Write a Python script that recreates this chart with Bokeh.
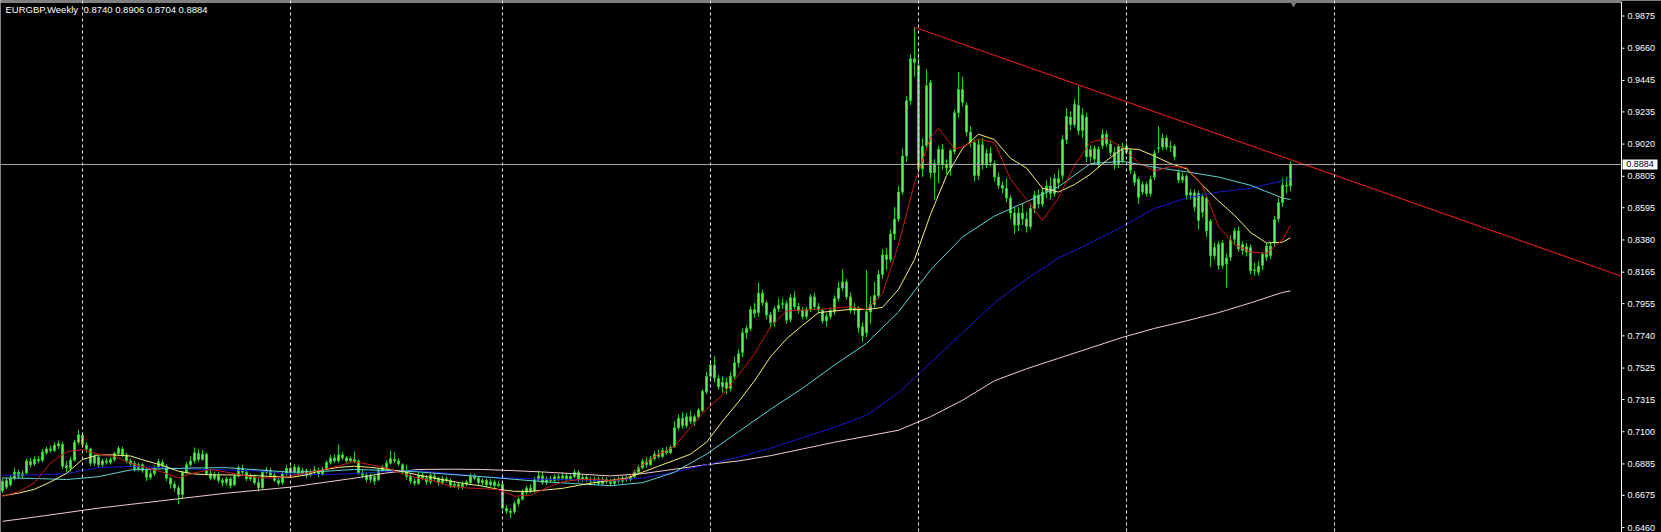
from bokeh.plotting import figure
from bokeh.models import Span, Label, ColumnDataSource, Range1d
from bokeh.core.properties import value
from bokeh.embed import file_html
from bokeh.resources import INLINE

symbol = "EURGBP"
period = "Weekly"

# weekly OHLC, oldest first
open_ = [
    0.6705, 0.6730, 0.6745, 0.6790, 0.6830, 0.6805, 0.6825, 0.6900, 0.6885, 0.6915,
    0.6910, 0.6960, 0.6985, 0.6975, 0.7005, 0.7015, 0.6875, 0.6855, 0.6910, 0.7030,
    0.7075, 0.7010, 0.6985, 0.6890, 0.6930, 0.6880, 0.6905, 0.6895, 0.6915, 0.6955,
    0.6985, 0.6945, 0.6905, 0.6890, 0.6850, 0.6880, 0.6845, 0.6795, 0.6820, 0.6860,
    0.6895, 0.6870, 0.6790, 0.6750, 0.6725, 0.6680, 0.6830, 0.6880, 0.6905, 0.6955,
    0.6915, 0.6950, 0.6820, 0.6790, 0.6810, 0.6775, 0.6760, 0.6785, 0.6745, 0.6805,
    0.6855, 0.6830, 0.6785, 0.6800, 0.6760, 0.6725, 0.6830, 0.6840, 0.6810, 0.6775,
    0.6760, 0.6820, 0.6855, 0.6830, 0.6860, 0.6820, 0.6840, 0.6810, 0.6830, 0.6845,
    0.6815, 0.6850, 0.6895, 0.6925, 0.6905, 0.6945, 0.6925, 0.6905, 0.6915, 0.6905,
    0.6825, 0.6810, 0.6780, 0.6800, 0.6780, 0.6840, 0.6860, 0.6890, 0.6915, 0.6905,
    0.6880, 0.6830, 0.6805, 0.6770, 0.6755, 0.6810, 0.6790, 0.6765, 0.6805, 0.6790,
    0.6760, 0.6785, 0.6775, 0.6740, 0.6750, 0.6735, 0.6750, 0.6760, 0.6805, 0.6790,
    0.6760, 0.6775, 0.6745, 0.6765, 0.6740, 0.6750, 0.6590, 0.6570, 0.6565, 0.6620,
    0.6650, 0.6695, 0.6725, 0.6705, 0.6780, 0.6805, 0.6760, 0.6785, 0.6775, 0.6800,
    0.6790, 0.6805, 0.6785, 0.6800, 0.6830, 0.6780, 0.6795, 0.6780, 0.6770, 0.6785,
    0.6755, 0.6780, 0.6770, 0.6755, 0.6780, 0.6770, 0.6790, 0.6780, 0.6800, 0.6830,
    0.6860, 0.6900, 0.6880, 0.6920, 0.6950, 0.6935, 0.6975, 0.6960, 0.7000, 0.7126,
    0.7190, 0.7140, 0.7200, 0.7165, 0.7200, 0.7240, 0.7365, 0.7470, 0.7545, 0.7455,
    0.7400, 0.7430, 0.7390, 0.7470, 0.7560, 0.7630, 0.7760, 0.7790, 0.7915, 0.7895,
    0.8025, 0.7960, 0.7880, 0.7830, 0.7920, 0.7950, 0.7955, 0.7850, 0.7995, 0.7935,
    0.7910, 0.7870, 0.7915, 0.8000, 0.7935, 0.7910, 0.7840, 0.7870, 0.7900, 0.7990,
    0.8060, 0.8100, 0.8000, 0.7910, 0.7925, 0.7800, 0.7760, 0.7900, 0.7950, 0.8010,
    0.8150, 0.8280, 0.8250, 0.8420, 0.8520, 0.8700, 0.8940, 0.9310, 0.9590, 0.9545,
    0.8855, 0.9010, 0.9430, 0.8830, 0.8890, 0.8985, 0.8880, 0.8860, 0.8970, 0.9230,
    0.9385, 0.9280, 0.9100, 0.9030, 0.8810, 0.9015, 0.8880, 0.8960, 0.8890, 0.8800,
    0.8745, 0.8725, 0.8660, 0.8560, 0.8480, 0.8560, 0.8520, 0.8470, 0.8590, 0.8680,
    0.8620, 0.8700, 0.8740, 0.8690, 0.8790, 0.8810, 0.9050, 0.9200, 0.9150, 0.9280,
    0.9110, 0.9200, 0.8935, 0.8990, 0.8880, 0.9010, 0.9085, 0.9020, 0.8965, 0.8885,
    0.9000, 0.8965, 0.8975, 0.8820, 0.8785, 0.8700, 0.8750, 0.8690, 0.8800, 0.8990,
    0.9000, 0.9060, 0.9005, 0.9005, 0.8830, 0.8780, 0.8805, 0.8695, 0.8695, 0.8690,
    0.8565, 0.8660, 0.8505, 0.8275, 0.8350, 0.8210, 0.8260, 0.8265, 0.8385, 0.8440,
    0.8350, 0.8335, 0.8330, 0.8180, 0.8165, 0.8210, 0.8265, 0.8340, 0.8365, 0.8520,
    0.8630, 0.8745, 0.8740,
]
high = [
    0.6790, 0.6795, 0.6810, 0.6860, 0.6850, 0.6840, 0.6920, 0.6925, 0.6935, 0.6940,
    0.6985, 0.7000, 0.7010, 0.7030, 0.7040, 0.7035, 0.6905, 0.6930, 0.7045, 0.7115,
    0.7095, 0.7030, 0.6995, 0.6950, 0.6945, 0.6920, 0.6925, 0.6930, 0.6965, 0.7005,
    0.7000, 0.6960, 0.6920, 0.6905, 0.6895, 0.6890, 0.6860, 0.6840, 0.6875, 0.6920,
    0.6915, 0.6885, 0.6800, 0.6770, 0.6740, 0.6840, 0.6900, 0.6935, 0.6995, 0.6985,
    0.6980, 0.6960, 0.6845, 0.6835, 0.6830, 0.6790, 0.6800, 0.6800, 0.6820, 0.6875,
    0.6880, 0.6840, 0.6820, 0.6815, 0.6790, 0.6845, 0.6865, 0.6860, 0.6830, 0.6795,
    0.6835, 0.6880, 0.6870, 0.6885, 0.6875, 0.6860, 0.6855, 0.6850, 0.6870, 0.6860,
    0.6865, 0.6910, 0.6945, 0.6950, 0.7015, 0.6965, 0.6940, 0.6935, 0.6970, 0.6915,
    0.6845, 0.6830, 0.6820, 0.6815, 0.6855, 0.6880, 0.6910, 0.6975, 0.6965, 0.6925,
    0.6890, 0.6880, 0.6825, 0.6790, 0.6830, 0.6830, 0.6810, 0.6825, 0.6825, 0.6800,
    0.6805, 0.6800, 0.6790, 0.6770, 0.6765, 0.6770, 0.6780, 0.6825, 0.6820, 0.6805,
    0.6790, 0.6785, 0.6785, 0.6780, 0.6770, 0.6765, 0.6610, 0.6590, 0.6640, 0.6665,
    0.6715, 0.6740, 0.6750, 0.6800, 0.6840, 0.6830, 0.6800, 0.6805, 0.6815, 0.6820,
    0.6830, 0.6825, 0.6815, 0.6850, 0.6845, 0.6815, 0.6810, 0.6800, 0.6800, 0.6800,
    0.6800, 0.6795, 0.6785, 0.6795, 0.6800, 0.6805, 0.6810, 0.6815, 0.6845, 0.6880,
    0.6920, 0.6930, 0.6940, 0.6970, 0.6980, 0.6995, 0.7000, 0.7010, 0.7170, 0.7215,
    0.7230, 0.7225, 0.7240, 0.7215, 0.7260, 0.7385, 0.7500, 0.7580, 0.7605, 0.7480,
    0.7470, 0.7460, 0.7500, 0.7600, 0.7650, 0.7790, 0.7810, 0.7940, 0.7960, 0.8095,
    0.8050, 0.7975, 0.7900, 0.7940, 0.7990, 0.7990, 0.7975, 0.8020, 0.8040, 0.7960,
    0.7930, 0.7935, 0.8020, 0.8030, 0.7960, 0.7920, 0.7890, 0.7930, 0.8010, 0.8100,
    0.8185, 0.8120, 0.8030, 0.7960, 0.7940, 0.7830, 0.8180, 0.8000, 0.8100, 0.8180,
    0.8320, 0.8330, 0.8450, 0.8600, 0.8740, 0.8990, 0.9340, 0.9620, 0.9800, 0.9630,
    0.9060, 0.9520, 0.9450, 0.8920, 0.9010, 0.9020, 0.8920, 0.8990, 0.9250, 0.9500,
    0.9470, 0.9300, 0.9140, 0.9050, 0.9050, 0.9060, 0.8990, 0.9000, 0.8910, 0.8830,
    0.8770, 0.8790, 0.8680, 0.8600, 0.8600, 0.8620, 0.8570, 0.8620, 0.8710, 0.8720,
    0.8730, 0.8780, 0.8800, 0.8820, 0.8850, 0.9080, 0.9260, 0.9240, 0.9320, 0.9410,
    0.9260, 0.9230, 0.9010, 0.9010, 0.9005, 0.9120, 0.9110, 0.9040, 0.9000, 0.9020,
    0.9030, 0.9030, 0.8990, 0.8840, 0.8800, 0.8770, 0.8770, 0.8810, 0.8980, 0.9140,
    0.9090, 0.9080, 0.9040, 0.9020, 0.8850, 0.8830, 0.8820, 0.8720, 0.8720, 0.8710,
    0.8690, 0.8680, 0.8520, 0.8360, 0.8370, 0.8380, 0.8290, 0.8410, 0.8460, 0.8470,
    0.8370, 0.8360, 0.8350, 0.8230, 0.8240, 0.8300, 0.8360, 0.8370, 0.8540, 0.8660,
    0.8790, 0.8800, 0.8906,
]
low = [
    0.6690, 0.6715, 0.6735, 0.6775, 0.6785, 0.6790, 0.6815, 0.6860, 0.6870, 0.6890,
    0.6895, 0.6945, 0.6960, 0.6965, 0.6985, 0.6850, 0.6830, 0.6835, 0.6900, 0.7015,
    0.6995, 0.6960, 0.6870, 0.6870, 0.6860, 0.6865, 0.6880, 0.6880, 0.6900, 0.6940,
    0.6930, 0.6890, 0.6870, 0.6835, 0.6840, 0.6825, 0.6770, 0.6780, 0.6805, 0.6850,
    0.6855, 0.6770, 0.6720, 0.6700, 0.6615, 0.6650, 0.6815, 0.6865, 0.6890, 0.6900,
    0.6905, 0.6810, 0.6775, 0.6775, 0.6760, 0.6735, 0.6740, 0.6720, 0.6735, 0.6795,
    0.6815, 0.6770, 0.6770, 0.6745, 0.6700, 0.6720, 0.6815, 0.6795, 0.6765, 0.6740,
    0.6745, 0.6805, 0.6815, 0.6815, 0.6805, 0.6805, 0.6790, 0.6800, 0.6815, 0.6795,
    0.6805, 0.6840, 0.6880, 0.6890, 0.6895, 0.6910, 0.6890, 0.6895, 0.6890, 0.6810,
    0.6790, 0.6760, 0.6760, 0.6745, 0.6770, 0.6830, 0.6845, 0.6880, 0.6890, 0.6870,
    0.6815, 0.6780, 0.6750, 0.6740, 0.6745, 0.6775, 0.6745, 0.6750, 0.6770, 0.6740,
    0.6745, 0.6760, 0.6725, 0.6725, 0.6715, 0.6715, 0.6735, 0.6745, 0.6775, 0.6745,
    0.6740, 0.6730, 0.6735, 0.6720, 0.6730, 0.6580, 0.6550, 0.6524, 0.6550, 0.6600,
    0.6640, 0.6680, 0.6690, 0.6695, 0.6770, 0.6745, 0.6745, 0.6760, 0.6760, 0.6770,
    0.6775, 0.6770, 0.6770, 0.6790, 0.6760, 0.6765, 0.6765, 0.6755, 0.6745, 0.6740,
    0.6745, 0.6750, 0.6735, 0.6740, 0.6755, 0.6755, 0.6765, 0.6770, 0.6790, 0.6820,
    0.6850, 0.6860, 0.6870, 0.6905, 0.6920, 0.6925, 0.6945, 0.6950, 0.6990, 0.7110,
    0.7120, 0.7125, 0.7150, 0.7140, 0.7180, 0.7230, 0.7350, 0.7440, 0.7430, 0.7380,
    0.7360, 0.7350, 0.7370, 0.7450, 0.7530, 0.7600, 0.7720, 0.7770, 0.7860, 0.7870,
    0.7940, 0.7850, 0.7790, 0.7800, 0.7900, 0.7920, 0.7820, 0.7830, 0.7915, 0.7890,
    0.7850, 0.7850, 0.7900, 0.7915, 0.7890, 0.7820, 0.7800, 0.7850, 0.7880, 0.7970,
    0.8040, 0.7980, 0.7890, 0.7880, 0.7760, 0.7700, 0.7730, 0.7820, 0.7930, 0.7990,
    0.8120, 0.8180, 0.8230, 0.8380, 0.8500, 0.8680, 0.8900, 0.9280, 0.9470, 0.8820,
    0.8800, 0.8980, 0.8790, 0.8650, 0.8760, 0.8850, 0.8820, 0.8810, 0.8950, 0.9200,
    0.9270, 0.9070, 0.9000, 0.8770, 0.8780, 0.8850, 0.8860, 0.8870, 0.8770, 0.8720,
    0.8690, 0.8630, 0.8520, 0.8420, 0.8440, 0.8480, 0.8430, 0.8450, 0.8560, 0.8590,
    0.8600, 0.8660, 0.8650, 0.8670, 0.8720, 0.8780, 0.9020, 0.9110, 0.9130, 0.9080,
    0.9060, 0.8900, 0.8900, 0.8880, 0.8860, 0.8990, 0.9000, 0.8940, 0.8850, 0.8860,
    0.8890, 0.8950, 0.8820, 0.8740, 0.8620, 0.8680, 0.8670, 0.8670, 0.8780, 0.8960,
    0.8980, 0.8980, 0.8970, 0.8910, 0.8760, 0.8760, 0.8650, 0.8650, 0.8570, 0.8450,
    0.8530, 0.8400, 0.8200, 0.8250, 0.8180, 0.8190, 0.8062, 0.8240, 0.8350, 0.8300,
    0.8280, 0.8270, 0.8150, 0.8140, 0.8140, 0.8180, 0.8240, 0.8250, 0.8340, 0.8500,
    0.8600, 0.8690, 0.8704,
]
close = [
    0.6770, 0.6775, 0.6790, 0.6830, 0.6800, 0.6820, 0.6905, 0.6880, 0.6915, 0.6905,
    0.6965, 0.6985, 0.6975, 0.7010, 0.7020, 0.6870, 0.6860, 0.6910, 0.7030, 0.7080,
    0.7015, 0.6985, 0.6890, 0.6935, 0.6880, 0.6905, 0.6895, 0.6915, 0.6955, 0.6990,
    0.6945, 0.6905, 0.6885, 0.6850, 0.6880, 0.6840, 0.6795, 0.6820, 0.6860, 0.6900,
    0.6870, 0.6790, 0.6750, 0.6725, 0.6680, 0.6830, 0.6880, 0.6905, 0.6960, 0.6915,
    0.6950, 0.6820, 0.6790, 0.6815, 0.6775, 0.6760, 0.6785, 0.6740, 0.6805, 0.6860,
    0.6830, 0.6785, 0.6800, 0.6760, 0.6725, 0.6830, 0.6845, 0.6810, 0.6775, 0.6755,
    0.6820, 0.6855, 0.6830, 0.6865, 0.6820, 0.6840, 0.6810, 0.6830, 0.6845, 0.6815,
    0.6850, 0.6895, 0.6925, 0.6905, 0.6945, 0.6925, 0.6905, 0.6920, 0.6900, 0.6825,
    0.6810, 0.6780, 0.6805, 0.6770, 0.6840, 0.6865, 0.6890, 0.6920, 0.6905, 0.6885,
    0.6830, 0.6800, 0.6770, 0.6755, 0.6810, 0.6790, 0.6765, 0.6810, 0.6790, 0.6760,
    0.6785, 0.6775, 0.6740, 0.6750, 0.6735, 0.6750, 0.6765, 0.6805, 0.6790, 0.6760,
    0.6775, 0.6745, 0.6765, 0.6740, 0.6750, 0.6590, 0.6570, 0.6560, 0.6620, 0.6650,
    0.6700, 0.6725, 0.6700, 0.6780, 0.6805, 0.6760, 0.6785, 0.6775, 0.6800, 0.6790,
    0.6805, 0.6785, 0.6800, 0.6830, 0.6780, 0.6795, 0.6780, 0.6770, 0.6785, 0.6755,
    0.6780, 0.6770, 0.6755, 0.6780, 0.6770, 0.6790, 0.6780, 0.6800, 0.6830, 0.6860,
    0.6900, 0.6880, 0.6920, 0.6950, 0.6935, 0.6975, 0.6960, 0.6995, 0.7126, 0.7190,
    0.7140, 0.7200, 0.7170, 0.7200, 0.7245, 0.7370, 0.7470, 0.7545, 0.7460, 0.7400,
    0.7430, 0.7390, 0.7470, 0.7560, 0.7620, 0.7760, 0.7790, 0.7915, 0.7890, 0.8025,
    0.7960, 0.7880, 0.7830, 0.7920, 0.7945, 0.7955, 0.7845, 0.7995, 0.7935, 0.7910,
    0.7870, 0.7915, 0.8000, 0.7935, 0.7915, 0.7840, 0.7870, 0.7910, 0.7990, 0.8060,
    0.8100, 0.8000, 0.7910, 0.7925, 0.7795, 0.7740, 0.7900, 0.7950, 0.8010, 0.8150,
    0.8280, 0.8250, 0.8420, 0.8520, 0.8700, 0.8940, 0.9310, 0.9590, 0.9565, 0.8855,
    0.9005, 0.9410, 0.8830, 0.8890, 0.8985, 0.8880, 0.8860, 0.8975, 0.9230, 0.9385,
    0.9300, 0.9100, 0.9035, 0.8810, 0.9015, 0.8880, 0.8960, 0.8900, 0.8800, 0.8745,
    0.8725, 0.8660, 0.8560, 0.8480, 0.8560, 0.8520, 0.8470, 0.8590, 0.8680, 0.8620,
    0.8700, 0.8740, 0.8690, 0.8790, 0.8760, 0.9050, 0.9205, 0.9150, 0.9285, 0.9110,
    0.9215, 0.8935, 0.8985, 0.8920, 0.8985, 0.9085, 0.9020, 0.8965, 0.8880, 0.9005,
    0.8910, 0.9005, 0.8845, 0.8765, 0.8665, 0.8750, 0.8690, 0.8785, 0.8960, 0.8995,
    0.9060, 0.9000, 0.9000, 0.8935, 0.8780, 0.8805, 0.8680, 0.8680, 0.8600, 0.8510,
    0.8670, 0.8440, 0.8275, 0.8330, 0.8210, 0.8360, 0.8220, 0.8380, 0.8440, 0.8320,
    0.8310, 0.8300, 0.8175, 0.8175, 0.8205, 0.8285, 0.8340, 0.8275, 0.8515, 0.8630,
    0.8745, 0.8740, 0.8884,
]

# moving averages, sampled along the bar index
ma_red_bars = list(range(0, 233, 4)) + [234, 238] + list(range(240, 321, 4)) + [322]
ma_red = [
    0.6669, 0.6700, 0.6759, 0.6892, 0.6965, 0.6981, 0.6950, 0.6935, 0.6890, 0.6860,
    0.6830, 0.6792, 0.6825, 0.6848, 0.6830, 0.6810, 0.6792, 0.6792, 0.6805, 0.6825,
    0.6845, 0.6872, 0.6900, 0.6880, 0.6858, 0.6820, 0.6790, 0.6770, 0.6736, 0.6725,
    0.6720, 0.6714, 0.6670, 0.6675, 0.6725, 0.6765, 0.6780, 0.6782, 0.6775, 0.6785,
    0.6880, 0.6950, 0.7000, 0.7130, 0.7250, 0.7345, 0.7480, 0.7620, 0.7800, 0.7906,
    0.7912, 0.7917, 0.7925, 0.7935, 0.7915, 0.8020, 0.8350, 0.8760, 0.9064, 0.9125,
    0.8990, 0.9000, 0.9053, 0.9030, 0.8786, 0.8650, 0.8510, 0.8660, 0.8880, 0.9031,
    0.9060, 0.8995, 0.8895, 0.8840, 0.8870, 0.8865, 0.8740, 0.8470, 0.8350, 0.8300,
    0.8290, 0.8380, 0.8480,
]
ma_yellow_bars = list(range(0, 321, 4)) + [322]
ma_yellow = [
    0.6672, 0.6690, 0.6716, 0.6765, 0.6822, 0.6915, 0.6946, 0.6945, 0.6938, 0.6905,
    0.6875, 0.6836, 0.6818, 0.6812, 0.6812, 0.6810, 0.6806, 0.6800, 0.6795, 0.6812,
    0.6845, 0.6862, 0.6870, 0.6862, 0.6850, 0.6835, 0.6810, 0.6790, 0.6770, 0.6752,
    0.6737, 0.6715, 0.6702, 0.6702, 0.6712, 0.6722, 0.6742, 0.6760, 0.6775, 0.6790,
    0.6830, 0.6870, 0.6910, 0.6950, 0.7030, 0.7170, 0.7300, 0.7440, 0.7600, 0.7720,
    0.7810, 0.7895, 0.7906, 0.7917, 0.7915, 0.7930, 0.8050, 0.8250, 0.8550, 0.8810,
    0.8990, 0.9086, 0.9050, 0.8925, 0.8860, 0.8725, 0.8700, 0.8750, 0.8820, 0.8910,
    0.8990, 0.8985, 0.8940, 0.8890, 0.8855, 0.8745, 0.8640, 0.8545, 0.8430, 0.8360,
    0.8365, 0.8395,
]
ma_slow_bars = list(range(0, 321, 8)) + [322]
ma_cyan = [
    0.6792, 0.6788, 0.6781, 0.6800, 0.6845, 0.6852, 0.6858, 0.6860, 0.6845, 0.6830,
    0.6835, 0.6848, 0.6842, 0.6832, 0.6815, 0.6800, 0.6782, 0.6765, 0.6752, 0.6740,
    0.6760, 0.6830, 0.6950, 0.7100, 0.7250, 0.7390, 0.7545, 0.7690, 0.7900, 0.8180,
    0.8400, 0.8540, 0.8635, 0.8735, 0.8890, 0.8905, 0.8865, 0.8835, 0.8800, 0.8745,
    0.8660, 0.8650,
]
ma_blue = [
    0.6810, 0.6812, 0.6820, 0.6860, 0.6868, 0.6860, 0.6850, 0.6845, 0.6838, 0.6818,
    0.6814, 0.6820, 0.6835, 0.6840, 0.6820, 0.6800, 0.6790, 0.6782, 0.6778, 0.6772,
    0.6790, 0.6830, 0.6880, 0.6930, 0.6990, 0.7060, 0.7130, 0.7210, 0.7360, 0.7560,
    0.7760, 0.7960, 0.8120, 0.8260, 0.8360, 0.8470, 0.8590, 0.8660, 0.8700, 0.8725,
    0.8775, 0.8785,
]
ma_white = [
    0.6502, 0.6530, 0.6560, 0.6590, 0.6615, 0.6640, 0.6665, 0.6690, 0.6710, 0.6730,
    0.6760, 0.6790, 0.6825, 0.6848, 0.6850, 0.6848, 0.6840, 0.6830, 0.6818, 0.6805,
    0.6820, 0.6850, 0.6880, 0.6905, 0.6940, 0.6985, 0.7030, 0.7070, 0.7110, 0.7200,
    0.7310, 0.7440, 0.7520, 0.7590, 0.7660, 0.7730, 0.7790, 0.7840, 0.7895, 0.7960,
    0.8030, 0.8040,
]

# first bar of each calendar year
year_start_bars = [20, 72, 125, 177, 229, 281, 333]

# resistance line from the December 2008 top, carried to the price scale
trend_bars = [228, 404.75]
trend_prices = [0.9800, 0.8138]

price_ticks = [0.9875, 0.9660, 0.9445, 0.9235, 0.9020, 0.8805, 0.8595, 0.8380, 0.8165,
               0.7955, 0.7740, 0.7525, 0.7315, 0.7100, 0.6885, 0.6675, 0.6460]

FONT = "Liberation Sans"
CANDLE_EDGE = "#1fcf1f"
CANDLE_FILL = "#5cf05c"

# canvas geometry: 4 px per weekly bar, price scale drawn on the right inside the canvas
W, H = 1661, 532
BAR_PX, FIRST_PX, SCALE_PX = 4, 2, 1621
x_lo = -FIRST_PX / BAR_PX
x_hi = (W - FIRST_PX) / BAR_PX
scale_x = (SCALE_PX - FIRST_PX) / BAR_PX
y_hi = 0.99785
PRICE_PER_PX = 0.00066751
y_lo = y_hi - H * PRICE_PER_PX

n = len(close)
src = ColumnDataSource(dict(
    x=list(range(n)),
    high=high,
    low=low,
    top=[max(o, c) for o, c in zip(open_, close)],
    bottom=[min(o, c) for o, c in zip(open_, close)],
))

p = figure(
    width=W, height=H,
    x_range=Range1d(x_lo, x_hi), y_range=Range1d(y_lo, y_hi),
    x_axis_location=None, y_axis_location=None,
    output_backend="svg", toolbar_location=None,
    background_fill_color="black", border_fill_color="black",
    outline_line_color=None,
    min_border=0, min_border_left=0, min_border_right=0, min_border_top=0, min_border_bottom=0,
)
p.grid.visible = False

# yearly period separators
for b in year_start_bars:
    p.add_layout(Span(location=b, dimension="height", line_color="#e8e8e8",
                      line_width=1, line_dash="3 3"))

# chart frame: top edge and price-scale line
top_edge = y_hi - 1.5 * PRICE_PER_PX
p.segment(x0=[x_lo], y0=[top_edge], x1=[scale_x], y1=[top_edge], line_color="white", line_width=1)
p.segment(x0=[scale_x], y0=[y_lo], x1=[scale_x], y1=[top_edge], line_color="white", line_width=1)

# price scale ticks and labels
p.segment(x0=[scale_x] * len(price_ticks), y0=price_ticks,
          x1=[scale_x + 3 / BAR_PX] * len(price_ticks), y1=price_ticks,
          line_color="white", line_width=1)
p.text(x=[scale_x + 6 / BAR_PX] * len(price_ticks), y=price_ticks,
       text=[f"{t:.4f}" for t in price_ticks],
       text_color="white", text_font=value(FONT), text_font_size="9px",
       text_align="left", text_baseline="middle")

# candles
p.segment(x0="x", y0="low", x1="x", y1="high", source=src, line_color=CANDLE_EDGE, line_width=1)
p.vbar(x="x", top="top", bottom="bottom", width=0.5, source=src,
       fill_color=CANDLE_FILL, line_color=CANDLE_EDGE, line_width=1)

# moving averages
p.line(ma_slow_bars, ma_white, line_color="#f2cdd4", line_width=1)
p.line(ma_slow_bars, ma_blue, line_color="#1a1ad0", line_width=1)
p.line(ma_slow_bars, ma_cyan, line_color="#5fd3d3", line_width=1)
p.line(ma_yellow_bars, ma_yellow, line_color="#f5f07a", line_width=1)
p.line(ma_red_bars, ma_red, line_color="#c81818", line_width=1)

# trend line
p.line(trend_bars, trend_prices, line_color="#d21c1c", line_width=1.2)

# current bid line with its price tag on the scale
last_close = close[-1]
p.segment(x0=[x_lo], y0=[last_close], x1=[scale_x], y1=[last_close], line_color="#a8a8a8", line_width=1)
tag_x = scale_x + (1 + 35 / 2) / BAR_PX
p.rect(x=[tag_x], y=[last_close], width=35 / BAR_PX, height=10 * PRICE_PER_PX,
       fill_color="white", line_color=None)
p.text(x=[tag_x], y=[last_close], text=[f"{last_close:.4f}"],
       text_color="black", text_font=value(FONT), text_font_size="9px",
       text_align="center", text_baseline="middle")

# chart-shift marker above the newest bar
p.scatter(x=[n - 0.25], y=[y_hi - 3 * PRICE_PER_PX], marker="inverted_triangle", size=7,
          fill_color="#7a7a7a", line_color=None)

# symbol / period and last bar OHLC
p.add_layout(Label(x=5, y=H - 3, x_units="screen", y_units="screen",
                   text=f"{symbol},{period}",
                   text_color="white", text_font=FONT, text_font_size="9.5px",
                   text_baseline="top"))
p.add_layout(Label(x=83, y=H - 3, x_units="screen", y_units="screen",
                   text=f"{open_[-1]:.4f} {high[-1]:.4f} {low[-1]:.4f} {close[-1]:.4f}",
                   text_color="white", text_font=FONT, text_font_size="9.5px",
                   text_baseline="top"))

open("out.html", "w").write(file_html(p, INLINE))
